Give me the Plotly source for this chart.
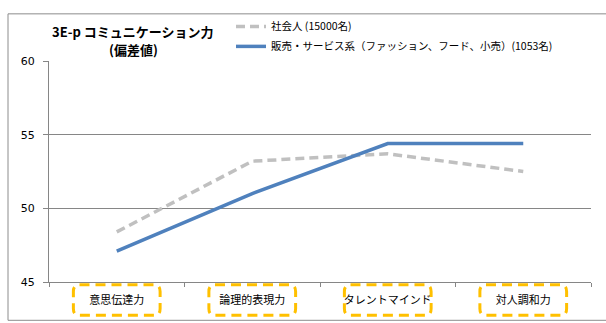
import plotly.graph_objects as go

# Skill categories on the x axis
categories = ["意思伝達力", "論理的表現力", "タレントマインド", "対人調和力"]

# Deviation scores (偏差値) per group
workers_all = [48.4, 53.2, 53.7, 52.5]      # 社会人 (15000名)
sales_service = [47.1, 51.0, 54.4, 54.4]    # 販売・サービス系 (1053名)

series_names = ["社会人 (15000名)", "販売・サービス系（ファッション、フード、小売）(1053名)"]
title_lines = ["3E-p コミュニケーション力", "(偏差値)"]
y_ticks = [45, 50, 55, 60]

JP_FONT = "Noto Sans CJK JP"

fig = go.Figure()
fig.add_trace(go.Scatter(
    x=categories, y=workers_all, name=series_names[0], mode="lines",
    line=dict(color="#C0C0C0", width=3.5, dash="9px,5px"),
    legendgroup="a",
))
fig.add_trace(go.Scatter(
    x=categories, y=sales_service, name=series_names[1], mode="lines",
    line=dict(color="#4F81BD", width=3.5),
    legendgroup="b",
))

# Orange dashed rounded frames around each category label
half_w = 0.32
rx, ry = 0.045, 0.03
y_top, y_bot = -0.013, -0.151
for i, _ in enumerate(categories):
    x0, x1 = i - half_w, i + half_w
    path = (
        f"M{x0 + rx},{y_top} L{x1 - rx},{y_top} Q{x1},{y_top} {x1},{y_top - ry} "
        f"L{x1},{y_bot + ry} Q{x1},{y_bot} {x1 - rx},{y_bot} "
        f"L{x0 + rx},{y_bot} Q{x0},{y_bot} {x0},{y_bot + ry} "
        f"L{x0},{y_top - ry} Q{x0},{y_top} {x0 + rx},{y_top} Z"
    )
    fig.add_shape(type="path", path=path, xref="x", yref="paper",
                  line=dict(color="#FFC000", width=3, dash="10px,6px"),
                  layer="above")

# Outer chart frame
fig.add_shape(type="rect", xref="paper", yref="paper",
              x0=(8 - 49) / 542, x1=(620 - 49) / 542,
              y0=(282 - 321) / 225, y1=(282 - 9) / 225,
              line=dict(color="#8C8C8C", width=1), layer="below")

# Two-line bold chart title
for line_text, center_px in zip(title_lines, [27, 45]):
    fig.add_annotation(
        text=f"<b>{line_text}</b>",
        xref="paper", yref="paper", x=(133 - 49) / 542, y=(282 - center_px) / 225,
        xanchor="center", yanchor="middle", showarrow=False,
        font=dict(family=JP_FONT, size=13, color="#000000"),
    )

fig.update_layout(
    width=606, height=323,
    margin=dict(l=49, r=15, t=57, b=41),
    paper_bgcolor="white", plot_bgcolor="white",
    showlegend=True,
    legend=dict(
        x=(231 - 49) / 542, y=(282 - 7) / 225, xanchor="left", yanchor="top",
        font=dict(family=JP_FONT, size=10.5, color="#000000"),
        bgcolor="rgba(0,0,0,0)", tracegroupgap=1,
        itemwidth=30,
    ),
    xaxis=dict(
        range=[-0.5, 3.5], showgrid=False,
        showline=True, linecolor="#868686", linewidth=1,
        ticks="outside", tickson="boundaries", ticklen=4, tickcolor="#868686",
        tickfont=dict(family=JP_FONT, size=11, color="#000000"),
        ticklabelstandoff=8,
    ),
    yaxis=dict(
        range=[45, 60], tickvals=y_ticks, showgrid=True,
        gridcolor="#868686", gridwidth=1,
        showline=True, linecolor="#868686", linewidth=1,
        ticks="outside", ticklen=5, tickcolor="#868686",
        tickfont=dict(family="DejaVu Sans", size=11, color="#000000"),
        ticklabelstandoff=6, zeroline=False,
    ),
)

fig.write_html("out.html")
